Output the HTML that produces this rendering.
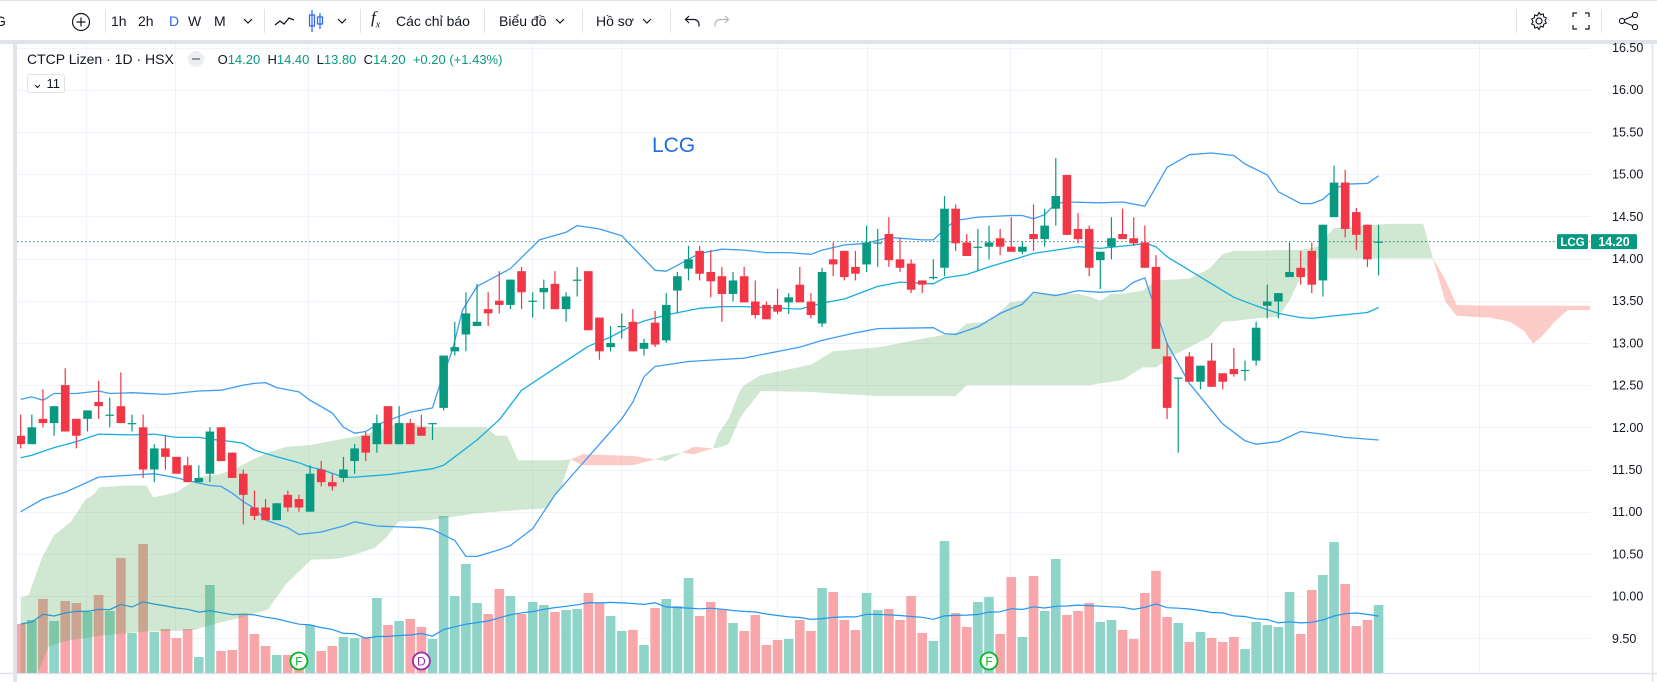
<!DOCTYPE html>
<html><head><meta charset="utf-8">
<style>
html,body{margin:0;padding:0;background:#fff;}
body{width:1657px;height:682px;position:relative;overflow:hidden;font-family:"Liberation Sans","Noto Sans CJK SC",sans-serif;color:#131722;}
#tb{position:absolute;left:0;top:0;width:1657px;height:40px;border-top:1px solid #e0e3eb;box-sizing:border-box;}
#tbline{position:absolute;left:0;top:40px;width:1657px;height:4px;background:#e0e3eb;}
.ti{position:absolute;top:12px;font-size:14px;line-height:16px;color:#131722;white-space:nowrap;}
.sep{position:absolute;top:8px;width:1px;height:24px;background:#e0e3eb;}
#leftbar{position:absolute;left:13px;top:44px;width:4px;height:638px;background:#e0e3eb;}
#legend{position:absolute;left:27px;top:51px;font-size:14px;white-space:nowrap;}
.g{color:#089981;}
#btn11{position:absolute;left:27px;top:74px;width:38px;height:19px;border:1px solid #e0e3eb;border-radius:3px;font-size:13px;box-sizing:border-box;line-height:17px;text-align:center;background:#fff;}
</style></head>
<body>
<div id="tb">
  <span class="ti" style="left:-5px;">G</span>
  <svg style="position:absolute;left:71px;top:11px" width="20" height="20"><circle cx="10" cy="10" r="8.5" fill="none" stroke="#131722" stroke-width="1.2"/><path d="M10 5.5v9M5.5 10h9" stroke="#131722" stroke-width="1.2"/></svg>
  <div class="sep" style="left:105px"></div>
  <span class="ti" style="left:111px">1h</span>
  <span class="ti" style="left:138px">2h</span>
  <span class="ti" style="left:169px;color:#2962ff">D</span>
  <span class="ti" style="left:188px">W</span>
  <span class="ti" style="left:214px">M</span>
  <svg style="position:absolute;left:243px;top:16px" width="10" height="8"><path d="M1 2l4 4 4-4" fill="none" stroke="#131722" stroke-width="1.2"/></svg>
  <div class="sep" style="left:264px"></div>
  <svg style="position:absolute;left:274px;top:11px" width="22" height="18"><path d="M1 13l5-4 4 3 5-6 5 2" fill="none" stroke="#131722" stroke-width="1.3"/></svg>
  <svg style="position:absolute;left:307px;top:8px" width="18" height="24"><path d="M5 1v22M13 4v16" stroke="#2962ff" stroke-width="1.2"/><rect x="2.5" y="6" width="5" height="11" fill="none" stroke="#2962ff" stroke-width="1.2"/><rect x="10.5" y="8" width="5" height="7" fill="none" stroke="#2962ff" stroke-width="1.2"/></svg>
  <svg style="position:absolute;left:337px;top:16px" width="10" height="8"><path d="M1 2l4 4 4-4" fill="none" stroke="#131722" stroke-width="1.2"/></svg>
  <div class="sep" style="left:360px"></div>
  <span class="ti" style="left:371px;font-style:italic;font-family:'Liberation Serif',serif;font-size:17px;top:9px">f<sub style="font-size:10px">x</sub></span>
  <span class="ti" style="left:396px">Các chỉ báo</span>
  <div class="sep" style="left:484px"></div>
  <span class="ti" style="left:499px">Biểu đồ</span>
  <svg style="position:absolute;left:555px;top:16px" width="10" height="8"><path d="M1 2l4 4 4-4" fill="none" stroke="#131722" stroke-width="1.2"/></svg>
  <div class="sep" style="left:582px"></div>
  <span class="ti" style="left:596px">Hồ sơ</span>
  <svg style="position:absolute;left:642px;top:16px" width="10" height="8"><path d="M1 2l4 4 4-4" fill="none" stroke="#131722" stroke-width="1.2"/></svg>
  <div class="sep" style="left:670px"></div>
  <svg style="position:absolute;left:684px;top:11px" width="18" height="18"><path d="M5 4L1.5 7.5 5 11M2 7.5h8a5 5 0 0 1 5 5v2" fill="none" stroke="#131722" stroke-width="1.2"/></svg>
  <svg style="position:absolute;left:712px;top:11px" width="18" height="18"><path d="M13 4l3.5 3.5L13 11M16 7.5H8a5 5 0 0 0-5 5v2" fill="none" stroke="#b2b5be" stroke-width="1.2"/></svg>
  <div class="sep" style="left:1516px"></div>
  <svg style="position:absolute;left:1529px;top:10px" width="20" height="20"><circle cx="10" cy="10" r="3" fill="none" stroke="#131722" stroke-width="1.2"/><path d="M10 1.5l1.6 2.3 2.7-.8.4 2.8 2.6 1.2-1.3 2.5 1.3 2.5-2.6 1.2-.4 2.8-2.7-.8L10 18.5l-1.6-2.3-2.7.8-.4-2.8-2.6-1.2L4 10.5 2.7 8l2.6-1.2.4-2.8 2.7.8z" fill="none" stroke="#131722" stroke-width="1.1"/></svg>
  <svg style="position:absolute;left:1572px;top:11px" width="18" height="18"><path d="M1 5V1h4M13 1h4v4M17 13v4h-4M5 17H1v-4" fill="none" stroke="#131722" stroke-width="1.2"/></svg>
  <div class="sep" style="left:1601px"></div>
  <svg style="position:absolute;left:1618px;top:10px" width="22" height="20"><circle cx="17" cy="4" r="2.6" fill="none" stroke="#131722" stroke-width="1.1"/><circle cx="17" cy="16" r="2.6" fill="none" stroke="#131722" stroke-width="1.1"/><circle cx="4" cy="10" r="2.6" fill="none" stroke="#131722" stroke-width="1.1"/><path d="M6.3 8.8l8.4-3.6M6.3 11.2l8.4 3.6" stroke="#131722" stroke-width="1.1"/></svg>
</div>
<div id="tbline"></div>
<div id="leftbar"></div>

<svg id="chart" width="1657" height="682" style="position:absolute;left:0;top:0"></svg>

<div id="legend">
  <span>CTCP Lizen · 1D · HSX</span>
  <span style="display:inline-block;width:16px;height:16px;border-radius:8px;background:#eceef2;vertical-align:-3px;margin-left:10px;position:relative"><span style="position:absolute;left:4px;top:7px;width:8px;height:2px;background:#9598a1"></span></span>
  <span style="font-size:13px;margin-left:10px">O<span class="g">14.20</span>&nbsp; H<span class="g">14.40</span>&nbsp; L<span class="g">13.80</span>&nbsp; C<span class="g">14.20</span>&nbsp; <span class="g">+0.20 (+1.43%)</span></span>
</div>
<div id="btn11">&#8964; 11</div>

<script>
// ---- data ----
const opens=[11.9,11.8,12.1,12.05,12.5,12.1,12.1,12.3,12.15,12.25,12.05,12.0,11.5,11.75,11.65,11.55,11.35,11.45,12.0,11.7,11.45,11.05,11.05,10.9,11.2,11.15,11.0,11.5,11.35,11.4,11.6,11.9,11.8,12.25,11.8,12.05,12.0,12.05,12.23,12.9,13.1,13.2,13.4,13.5,13.45,13.85,13.5,13.6,13.7,13.4,13.75,13.85,13.3,12.95,13.2,13.25,12.93,13.24,13.03,13.62,13.88,14.09,13.84,13.79,13.58,13.79,13.49,13.45,13.45,13.48,13.69,13.49,13.23,13.99,14.09,13.9,13.93,14.19,14.29,13.99,13.94,13.74,13.78,13.89,14.59,14.19,14.14,14.14,14.24,14.14,14.08,14.29,14.23,14.59,14.99,14.35,14.35,13.98,14.14,14.29,14.24,14.19,13.9,12.84,12.59,12.84,12.54,12.79,12.64,12.69,12.68,12.79,13.44,13.49,13.78,13.89,14.09,13.74,14.49,14.9,14.55,14.4,14.2];
const highs=[12.15,12.15,12.45,12.25,12.7,12.1,12.2,12.55,12.35,12.65,12.15,12.15,11.8,11.9,11.65,11.65,11.55,12.0,12.0,11.7,11.5,11.25,11.15,11.1,11.25,11.2,11.55,11.6,11.45,11.65,11.8,11.95,12.15,12.25,12.25,12.1,12.15,12.05,12.85,13.25,13.6,13.7,13.6,13.85,13.75,13.9,13.6,13.75,13.85,13.6,13.9,13.85,13.3,13.2,13.35,13.4,13.05,13.38,13.59,13.84,14.15,14.15,14.1,13.9,13.84,13.9,13.74,13.49,13.64,13.59,13.9,13.59,13.89,14.19,14.09,14.09,14.39,14.35,14.49,14.24,13.99,13.74,13.99,14.74,14.64,14.29,14.35,14.39,14.35,14.49,14.2,14.64,14.59,15.19,14.99,14.54,14.39,14.08,14.49,14.59,14.49,14.39,14.04,13.0,12.59,12.89,12.73,13.0,12.64,12.94,12.79,13.25,13.69,13.59,14.19,14.09,14.19,14.4,15.1,15.05,14.6,14.4,14.4];
const lows=[11.75,11.8,12.0,11.9,11.95,11.75,11.95,12.1,12.0,12.05,11.95,11.4,11.35,11.5,11.45,11.35,11.35,11.35,11.6,11.4,10.85,10.9,10.9,10.9,11.0,11.0,11.0,11.3,11.25,11.35,11.45,11.6,11.7,11.8,11.8,11.8,11.9,11.85,12.2,12.85,12.9,13.2,13.2,13.35,13.4,13.4,13.3,13.4,13.4,13.25,13.55,13.15,12.8,12.9,13.05,12.9,12.85,12.95,13.0,13.35,13.74,13.74,13.54,13.25,13.49,13.48,13.29,13.28,13.34,13.34,13.48,13.29,13.19,13.79,13.74,13.74,13.84,13.9,13.9,13.84,13.59,13.59,13.75,13.79,14.09,14.03,13.85,13.99,14.04,14.08,14.05,14.09,14.14,14.39,14.28,14.18,13.79,13.64,13.99,14.23,14.15,13.89,12.93,12.1,11.7,12.54,12.45,12.48,12.45,12.6,12.55,12.73,13.29,13.29,13.78,13.69,13.59,13.55,14.49,14.25,14.1,13.9,13.8];
const closes=[11.8,12.0,12.05,12.25,11.95,11.9,12.2,12.25,12.15,12.05,12.05,11.5,11.75,11.65,11.45,11.35,11.4,11.95,11.6,11.4,11.2,10.95,10.9,11.1,11.05,11.05,11.45,11.35,11.3,11.5,11.75,11.7,12.05,11.8,12.05,11.8,11.9,12.05,12.85,12.95,13.35,13.25,13.35,13.45,13.75,13.6,13.5,13.65,13.4,13.55,13.75,13.15,12.9,13.0,13.2,12.9,13.0,12.98,13.45,13.79,13.99,13.82,13.73,13.58,13.74,13.48,13.33,13.28,13.37,13.54,13.48,13.33,13.84,13.93,13.78,13.82,14.19,14.19,13.98,13.89,13.63,13.69,13.78,14.59,14.18,14.03,14.14,14.19,14.14,14.08,14.14,14.23,14.39,14.74,14.28,14.23,13.89,14.08,14.24,14.23,14.18,13.89,12.93,12.23,12.59,12.54,12.73,12.48,12.54,12.63,12.68,13.18,13.49,13.59,13.84,13.78,13.69,14.4,14.9,14.35,14.28,13.99,14.2];
// volume in 10k shares
const volumes=[49,53,74,52,72,70,61,78,62,115,40,129,41,44,35,44,16,88,22,23,58,39,27,18,18,18,48,22,27,36,35,36,75,48,52,54,46,34,157,77,109,70,59,84,77,59,71,68,61,63,64,80,70,57,42,43,28,65,74,67,95,57,71,64,50,42,58,28,33,34,53,42,85,81,53,43,80,63,64,53,77,40,32,132,60,46,71,76,39,96,36,97,62,114,58,62,70,51,53,43,34,80,102,56,50,31,41,35,31,36,24,51,48,46,81,39,83,98,131,89,47,53,68];
// Bollinger bands : index + value
const bbUpperIdx=[0,1,2,3,5,7,8,10,13,16,18,20,21,22,23,25,26,28,29,30,31,32,34,35,37,37.5,38.8,39.7,41,44,46.6,49,50,52,54,57,58,59,61,63,65,67,69,71,72,74,76,78,81,82,83,84,86,89,90,91,92,93,94,97,99,101,102,103,105,107,109,110,112,113,115,116,117,118,119,121,122];
const bbUpper=[12.33,12.36,12.32,12.40,12.40,12.43,12.40,12.41,12.39,12.43,12.44,12.50,12.52,12.53,12.47,12.42,12.32,12.17,12.0,11.93,11.95,12.03,12.13,12.18,12.23,12.44,12.92,13.39,13.67,13.88,14.22,14.31,14.39,14.35,14.27,13.86,13.85,13.92,14.06,14.11,14.1,14.07,14.07,14.05,14.1,14.16,14.18,14.25,14.22,14.22,14.35,14.45,14.49,14.51,14.51,14.47,14.52,14.65,14.67,14.66,14.67,14.62,14.85,15.08,15.23,15.25,15.22,15.12,14.99,14.79,14.65,14.65,14.7,14.82,14.88,14.89,14.98];
const bbMidIdx=[0,1,3,5,7,10,12,14,16,17,19,20,21,23,25,26,27,29,30,33,37,38,41,43,45,48,51,53,55,56,58,61,63,65,67,70,72,74,77,79,82,83,85,87,89,91,93,95,97,100,101,102,103,105,107,109,111,113,115,116,118,121,122];
const bbMid=[11.64,11.67,11.76,11.83,11.92,11.91,11.92,11.88,11.88,11.86,11.83,11.81,11.73,11.65,11.58,11.53,11.5,11.41,11.41,11.44,11.51,11.55,11.85,12.09,12.44,12.70,12.96,13.07,13.21,13.26,13.33,13.41,13.43,13.43,13.42,13.4,13.47,13.52,13.67,13.72,13.70,13.77,13.81,13.9,13.98,14.06,14.1,14.14,14.12,14.16,14.18,14.14,14.02,13.86,13.7,13.54,13.44,13.35,13.3,13.29,13.32,13.36,13.42];
const bbLowerIdx=[0,2,4,7,12,14,16,17,18,19,20,21,22,24,25,27,29,30,32,34,36,37,39,40,41,43,44,46,47,48,50,52,54,55,56,57,60,65,70,72,75,77,82,83,84,86,88,90,91,93,95,97,99,100,101,103,105,106,108,110,111,113,115,117,119,122];
const bbLower=[11.0,11.15,11.23,11.41,11.45,11.4,11.34,11.31,11.3,11.22,11.12,11.04,10.9,10.81,10.73,10.76,10.83,10.88,10.83,10.82,10.81,10.79,10.66,10.47,10.47,10.55,10.6,10.8,11.0,11.2,11.5,11.8,12.1,12.3,12.6,12.72,12.78,12.82,12.95,13.03,13.12,13.17,13.18,13.11,13.1,13.19,13.35,13.46,13.6,13.56,13.62,13.6,13.62,13.72,13.77,12.99,12.52,12.36,12.04,11.84,11.8,11.83,11.95,11.92,11.88,11.85];
// Ichimoku cloud
const cloudIdx=[0,0.7,1.5,1.9,2.5,3,4.5,5.8,6.6,7.1,9.5,11.3,11.9,14,15.7,16.1,18,19,20.6,22.2,23.9,26.1,28,28.8,30.2,31.8,32.9,33.9,36.7,37.3,40.9,41.8,42.7,43.7,44.7,47.3,48.6,49.4,50.5,55,57,58,59.4,60.5,62.2,62.7,63.6,64.6,65,66.5,71,73,77.2,81,84,85,87,88.9,90,91,95,96,97,98,99,100.8,102,103.5,105,106.8,108,109,111,113,114,115,116.5,118,123,126,126.9,128,129,132,133.8,135,135.9,136.7,137.8,139,141];
const spanA=[9.98,10.01,10.3,10.45,10.6,10.72,10.88,11.14,11.21,11.29,11.31,11.31,11.17,11.23,11.38,11.41,11.45,11.49,11.6,11.7,11.77,11.79,11.84,11.86,11.89,11.95,11.99,12.06,12.01,12.0,12.0,12.0,11.9,11.9,11.61,11.61,11.61,11.62,11.55,11.55,11.62,11.67,11.7,11.68,11.75,11.93,12.1,12.43,12.5,12.62,12.74,12.9,12.95,13.05,13.12,13.23,13.25,13.48,13.5,13.58,13.58,13.55,13.5,13.58,13.58,13.62,13.74,13.75,13.76,13.88,14.05,14.09,14.09,14.1,14.1,14.1,14.14,14.36,14.41,14.41,14.0,13.49,13.32,13.3,13.25,13.15,12.99,13.08,13.25,13.39,13.39];
const spanB=[8.9,8.95,9.09,9.2,9.4,9.43,9.48,9.5,9.52,9.53,9.56,9.58,9.58,9.59,9.6,9.62,9.69,9.72,9.78,9.84,10.15,10.43,10.44,10.45,10.5,10.57,10.7,10.88,10.9,10.91,10.98,10.99,11.0,11.01,11.02,11.04,11.3,11.62,11.68,11.66,11.62,11.6,11.7,11.77,11.75,11.76,11.8,12.1,12.18,12.43,12.42,12.4,12.37,12.37,12.37,12.5,12.5,12.5,12.5,12.5,12.5,12.5,12.52,12.54,12.56,12.71,12.71,12.85,12.95,13.07,13.25,13.26,13.29,13.31,13.5,13.78,14.0,14.0,14.0,14.0,14.0,13.75,13.45,13.44,13.44,13.44,13.44,13.44,13.44,13.44,13.44];
const priceTicks=["16.50","16.00","15.50","15.00","14.50","14.00","13.50","13.00","12.50","12.00","11.50","11.00","10.50","10.00","9.50"];
const eventIdx=[25,36,87];
const eventLabels=["F","D","F"];
const lastPrice=14.20;

// ---- scales ----
const X0=20.7, STEP=11.13;
function xOf(i){return X0+STEP*i;}
function yOf(p){return 47.5+(16.5-p)*84.4;}
const VOL_BASE=673;
function vyOf(v){return VOL_BASE-v*1.0;}

const NS="http://www.w3.org/2000/svg";
const svg=document.getElementById('chart');
function mk(tag,attrs,parent){const e=document.createElementNS(NS,tag);for(const k in attrs)e.setAttribute(k,attrs[k]);(parent||svg).appendChild(e);return e;}

// clip
const defs=mk('defs',{});
const cp=mk('clipPath',{id:'plot'},defs);
mk('rect',{x:17,y:44,width:1573,height:629},cp);

// axis background / borders
const axisBorder=mk('line',{x1:0,y1:673.5,x2:1657,y2:673.5,stroke:'#e0e3eb','stroke-width':1.5});


const rb=mk('line',{x1:1652.5,y1:44,x2:1652.5,y2:682,stroke:'#e0e3eb','stroke-width':1.5});



const plot=mk('g',{'clip-path':'url(#plot)'});



// grid
const grid=mk('g',{},plot);


priceTicks.forEach(t=>{const y=Math.round(yOf(parseFloat(t)))+0.5;mk('line',{x1:17,y1:y,x2:1590,y2:y,stroke:'#f0f3fa','stroke-width':1},grid);});
[86,175,308,398,532,621,777,867,1010,1101,1267,1357,1479].forEach(x=>{mk('line',{x1:x+0.5,y1:44,x2:x+0.5,y2:673,stroke:'#f0f3fa','stroke-width':1},grid);});

// volume
const volG=mk('g',{},plot);


volumes.forEach((v,i)=>{
  const up=closes[i]>=opens[i];
  const r=mk('rect',{x:xOf(i)-4.8,y:vyOf(v),width:9.6,height:VOL_BASE-vyOf(v),fill:up?'#8fd4c8':'#f9a6aa'},volG);
  
  
});
// volume MA 20
let vpts=[];
for(let i=0;i<volumes.length;i++){let s=0,n=0;for(let j=Math.max(0,i-19);j<=i;j++){s+=volumes[j];n++;}vpts.push(xOf(i).toFixed(1)+','+vyOf(s/n).toFixed(1));}
const vma=mk('polyline',{points:vpts.join(' '),fill:'none',stroke:'#2196f3','stroke-width':1.2},plot);



// cloud
const cloudG=mk('g',{},plot);


(function(){
  let runs=[];let cur=null;
  function push(sign,x,a,b){
    if(!cur||cur.sign!==sign){cur={sign,pts:[]};runs.push(cur);}
    cur.pts.push([x,a,b]);
  }
  for(let k=0;k<cloudIdx.length-1;k++){
    const d0=spanA[k]-spanB[k], d1=spanA[k+1]-spanB[k+1];
    const x0=xOf(cloudIdx[k]), x1=xOf(cloudIdx[k+1]);
    if(d0*d1<0){
      const t=d0/(d0-d1);
      const xc=x0+(x1-x0)*t, pc=spanA[k]+(spanA[k+1]-spanA[k])*t;
      const s0=d0>0?1:-1;
      push(s0,x0,spanA[k],spanB[k]);push(s0,xc,pc,pc);
      push(-s0,xc,pc,pc);push(-s0,x1,spanA[k+1],spanB[k+1]);
    }else{
      const s=(d0+d1)>=0?1:-1;
      push(s,x0,spanA[k],spanB[k]);push(s,x1,spanA[k+1],spanB[k+1]);
    }
  }
  runs.forEach(r=>{
    const top=r.pts.map(p=>p[0].toFixed(1)+','+yOf(p[1]).toFixed(1));
    const bot=r.pts.slice().reverse().map(p=>p[0].toFixed(1)+','+yOf(p[2]).toFixed(1));
    const pg=mk('polygon',{points:top.concat(bot).join(' '),fill:r.sign>0?'rgba(67,160,71,0.25)':'rgba(244,67,54,0.27)'},cloudG);
    
    
  });
})();

// Bollinger
function band(idx,vals,color,name){
  const pts=idx.map((i,k)=>xOf(i).toFixed(1)+','+yOf(vals[k]).toFixed(1)).join(' ');
  const l=mk('polyline',{points:pts,fill:'none',stroke:color,'stroke-width':1.3,'stroke-linejoin':'round'},plot);
  
  
}
band(bbUpperIdx,bbUpper,'#3d9df2','bollinger-upper');
band(bbMidIdx,bbMid,'#17aee0','bollinger-basis');
band(bbLowerIdx,bbLower,'#3d9df2','bollinger-lower');

// last price line
const lp=mk('line',{x1:17,y1:yOf(lastPrice),x2:1590,y2:yOf(lastPrice),stroke:'#089981','stroke-width':1,'stroke-dasharray':'1.5 2.5'},plot);



// candles
const cg=mk('g',{},plot);


opens.forEach((o,i)=>{
  const c=closes[i],h=highs[i],l=lows[i];
  const up=c>=o;const col=up?'#089981':'#f23645';
  const x=xOf(i);
  const g=mk('g',{},cg);
  
  
  mk('line',{x1:x,y1:yOf(h),x2:x,y2:yOf(l),stroke:col,'stroke-width':1.2},g);
  const yt=yOf(Math.max(o,c)), yb=yOf(Math.min(o,c));
  mk('rect',{x:x-4.3,y:yt,width:8.6,height:Math.max(1.2,yb-yt),fill:col},g);
});

// events
eventIdx.forEach((i,k)=>{
  const col=eventLabels[k]==='D'?'#9c27b0':'#00b81f';
  const g=mk('g',{},plot);
  
  
  mk('circle',{cx:xOf(i),cy:661,r:8.5,fill:'#fff',stroke:col,'stroke-width':1.8},g);
  const t=mk('text',{x:xOf(i),y:665.5,'text-anchor':'middle','font-size':12,fill:col,'font-family':'Liberation Sans, sans-serif'},g);
  t.textContent=eventLabels[k];
});

// big watermark title
const wt=mk('text',{x:652,y:152,'font-size':21,fill:'#1e6fd9','font-family':'Liberation Sans, sans-serif'},plot);
wt.textContent='LCG';



// price axis
const ax=mk('g',{});


priceTicks.forEach(t=>{
  const y=yOf(parseFloat(t));
  if(Math.abs(y-yOf(lastPrice))<8) {}
  const tx=mk('text',{x:1612,y:y+4.5,'font-size':12.5,fill:'#131722','font-family':'Liberation Sans, sans-serif'},ax);
  tx.textContent=t;
  
  
});
// last price badges
const yl=yOf(lastPrice);
const b1=mk('rect',{x:1557,y:yl-7.5,width:31,height:15,rx:1.5,fill:'#089981'});


const t1=mk('text',{x:1572.5,y:yl+4.3,'text-anchor':'middle','font-size':11.5,'font-weight':'bold',fill:'#fff','font-family':'Liberation Sans, sans-serif'});
t1.textContent='LCG';
const b2=mk('rect',{x:1591,y:yl-7.5,width:46,height:15,rx:1.5,fill:'#089981'});


const t2=mk('text',{x:1614,y:yl+4.5,'text-anchor':'middle','font-size':12.5,'font-weight':'bold',fill:'#fff','font-family':'Liberation Sans, sans-serif'});
t2.textContent=lastPrice.toFixed(2);
</script>
</body></html>
